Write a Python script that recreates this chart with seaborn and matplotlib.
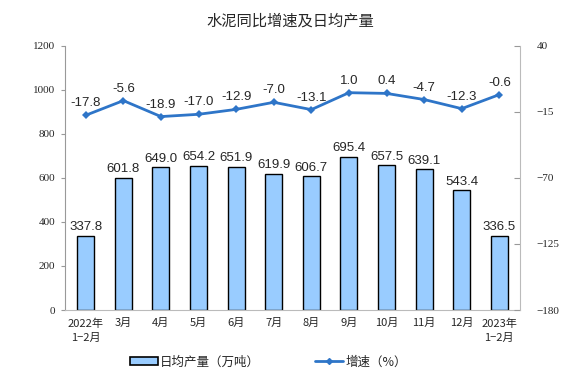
import matplotlib
matplotlib.use("Agg")
import matplotlib.pyplot as plt
import numpy as np
import pandas as pd
import seaborn as sns
from matplotlib.patches import Patch
from matplotlib.lines import Line2D

months = ["2022年\n1−2月", "3月", "4月", "5月", "6月", "7月", "8月", "9月",
          "10月", "11月", "12月", "2023年\n1−2月"]
output = [337.8, 601.8, 649.0, 654.2, 651.9, 619.9, 606.7, 695.4, 657.5, 639.1, 543.4, 336.5]
growth = [-17.8, -5.6, -18.9, -17.0, -12.9, -7.0, -13.1, 1.0, 0.4, -4.7, -12.3, -0.6]

df = pd.DataFrame({"month": months, "output": output, "growth": growth})

sns.set_style("white")
plt.rcParams["font.family"] = ["Noto Sans CJK SC", "DejaVu Sans"]

fig = plt.figure(figsize=(5.81, 3.79), dpi=100)
ax = fig.add_axes([0.112, 0.182, 0.783, 0.697])

# bars: daily output
sns.barplot(data=df, x="month", y="output", color="#99CCFF", edgecolor="black",
            linewidth=1.0, width=0.45, saturation=1, ax=ax)
for i, v in enumerate(output):
    ax.text(i, v + 12, f"{v:.1f}", ha="center", va="bottom", fontsize=9.5,
            family="Liberation Sans")

ax.set_ylim(0, 1200)
ax.set_yticks(range(0, 1201, 200))
ax.set_xlim(-0.55, 11.55)
ax.set_xlabel("")
ax.set_ylabel("")
ax.tick_params(axis="x", length=0, labelsize=8, pad=6)
ax.set_xticks(np.arange(-0.5, 12, 1), minor=True)
ax.tick_params(axis="x", which="minor", length=3, color="#999999")
ax.tick_params(axis="y", length=3, color="#999999", labelsize=8, pad=4)
for lbl in ax.get_yticklabels():
    lbl.set_family("Liberation Serif")
for lbl in ax.get_xticklabels():
    lbl.set_linespacing(1.5)
for s in ["top", "right"]:
    ax.spines[s].set_visible(False)
ax.spines["left"].set_color("#999999")
ax.spines["bottom"].set_color("#BBBBBB")

# line: growth rate
ax2 = ax.twinx()
sns.lineplot(x=np.arange(len(growth)), y=growth, color="#2E75C8", linewidth=2,
             marker="D", markersize=4, markeredgewidth=0, ax=ax2)
for i, v in enumerate(growth):
    ax2.text(i, v + 5, f"{v:.1f}", ha="center", va="bottom", fontsize=9.5,
             family="Liberation Sans")
ax2.set_ylim(-180, 40)
ax2.set_yticks(range(-180, 41, 55))
ax2.tick_params(axis="y", direction="in", length=4, color="#999999", labelsize=8, pad=12)
for lbl in ax2.get_yticklabels():
    lbl.set_family("Liberation Serif")
for s in ["top", "left", "bottom"]:
    ax2.spines[s].set_visible(False)
ax2.spines["right"].set_color("#BBBBBB")

fig.text(0.5, 0.945, "水泥同比增速及日均产量", ha="center", va="center", fontsize=11)

handles = [Patch(facecolor="#99CCFF", edgecolor="black", linewidth=1.2, label="日均产量（万吨）"),
           Line2D([0], [0], color="#2E75C8", linewidth=2, marker="D", markersize=3,
                  label="增速（%）")]
fig.legend(handles=handles, loc="center", bbox_to_anchor=(0.462, 0.045), ncol=2,
           frameon=False, fontsize=9, columnspacing=4.4, handlelength=2.2, handletextpad=0.2)

fig.savefig("out.png", dpi=100)
